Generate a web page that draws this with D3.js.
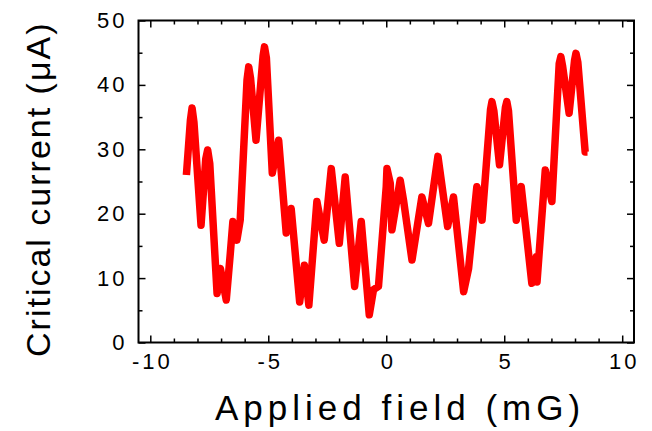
<!DOCTYPE html>
<html>
<head>
<meta charset="utf-8">
<script src="https://cdn.jsdelivr.net/npm/d3@7"></script>
<style>
  body { margin: 0; background: #fff; }
  svg text { font-family: Arial, "Liberation Sans", sans-serif; fill: #000; }
</style>
</head>
<body>
<div class="chart"></div>
<script>
// Traced data: applied field (mG) vs critical current (uA)
var fieldValues = [-8.47, -8.3, -8.23, -8.15, -7.85, -7.65, -7.57, -7.48, -7.17, -7.03, -6.78, -6.61, -6.5, -6.33, -6.19,
  -5.9, -5.83, -5.75, -5.52, -5.22, -5.16, -5.08, -4.83, -4.56, -4.24, -4.03, -3.67, -3.47, -3.28, -2.94, -2.63,
  -2.33, -1.99, -1.74, -1.34, -1.06, -0.72, -0.54, -0.33, 0.0, 0.03, 0.17, 0.24, 0.59,
  0.74, 1.09, 1.51, 1.79, 2.19, 2.6, 2.85, 3.28, 3.49, 3.84, 4.06, 4.42, 4.48, 4.56, 4.8, 5.05, 5.11, 5.18, 5.51,
  5.72, 6.17, 6.36, 6.39, 6.74, 7.02, 7.33, 7.4, 7.47, 7.75, 7.98, 8.04, 8.12, 8.43, 8.53];
var currentValues = [26.0, 34.5, 36.4, 34.2, 18.2, 28.5, 29.9, 27.8, 7.6, 11.5, 6.6, 13.8, 18.8, 15.9, 19.0,
  40.8, 42.8, 41.0, 31.4, 44.5, 45.9, 44.2, 26.3, 31.4, 17.0, 20.8, 6.3, 12.0, 5.8, 21.9, 15.9,
  27.0, 15.4, 25.7, 8.7, 18.8, 4.3, 8.2, 8.7, 24.2, 27.0, 24.7, 17.5, 25.2,
  21.9, 12.8, 22.6, 18.5, 28.9, 18.0, 22.6, 7.9, 11.5, 24.2, 19.0, 36.2, 37.4, 36.0, 27.6, 36.5, 37.4, 36.0, 19.0,
  24.2, 9.2, 13.3, 9.4, 26.8, 21.9, 43.3, 44.4, 43.0, 35.6, 43.8, 44.9, 43.5, 29.6, 29.6];

var xTicks = [-10, -5, 0, 5, 10];
var yTicks = [0, 10, 20, 30, 40, 50];

var svgWidth = 652;
var svgHeight = 431;
var margin = { top: 20.5, right: 18, bottom: 88.5, left: 138.5 };
var width = svgWidth - margin.left - margin.right;
var height = svgHeight - margin.top - margin.bottom;

var svg = d3.select(".chart")
  .append("svg")
  .attr("width", svgWidth)
  .attr("height", svgHeight);

var g = svg.append("g")
  .attr("transform", `translate(${margin.left}, ${margin.top})`);

var x = d3.scaleLinear().domain([-10.5, 10.5]).range([0, width]);
var y = d3.scaleLinear().domain([0, 50]).range([height, 0]);

var minorX = d3.range(-10, 11, 1).filter(d => xTicks.indexOf(d) < 0);
var minorY = d3.range(5, 50, 10);

// plain hyphen for negatives, as in the original figure
var plain = d => String(d);

function styleAxis(sel) {
  sel.attr("font-family", null);
  sel.select(".domain").remove();
  sel.selectAll("line").attr("stroke", "#000").attr("stroke-width", 1.5);
  sel.selectAll("text")
    .attr("font-size", 22)
    .attr("letter-spacing", "3px")
    .attr("fill", "#000");
}

// minor ticks
g.append("g").attr("transform", `translate(0, ${height})`)
  .call(d3.axisBottom(x).tickValues(minorX).tickSize(-4).tickFormat(""))
  .call(styleAxis);
g.append("g")
  .call(d3.axisTop(x).tickValues(minorX).tickSize(-4).tickFormat(""))
  .call(styleAxis);
g.append("g")
  .call(d3.axisLeft(y).tickValues(minorY).tickSize(-4).tickFormat(""))
  .call(styleAxis);
g.append("g").attr("transform", `translate(${width}, 0)`)
  .call(d3.axisRight(y).tickValues(minorY).tickSize(-4).tickFormat(""))
  .call(styleAxis);

// major ticks
g.append("g").attr("transform", `translate(0, ${height})`)
  .call(d3.axisBottom(x).tickValues(xTicks).tickSize(-7).tickPadding(11).tickFormat(plain))
  .call(styleAxis)
  .selectAll("text").attr("dx", "1.5px");
g.append("g")
  .call(d3.axisTop(x).tickValues(xTicks).tickSize(-7).tickFormat(""))
  .call(styleAxis);
g.append("g")
  .call(d3.axisLeft(y).tickValues(yTicks).tickSize(-7).tickPadding(11).tickFormat(plain))
  .call(styleAxis);
g.append("g").attr("transform", `translate(${width}, 0)`)
  .call(d3.axisRight(y).tickValues(yTicks).tickSize(-7).tickFormat(""))
  .call(styleAxis);

// frame
g.append("rect")
  .attr("width", width)
  .attr("height", height)
  .attr("fill", "none")
  .attr("stroke", "#000")
  .attr("stroke-width", 2);

// data line
var points = fieldValues.map((f, i) => [f, currentValues[i]]);
var line = d3.line()
  .x(d => x(d[0]))
  .y(d => y(d[1]));

g.append("path")
  .datum(points)
  .attr("d", line)
  .attr("fill", "none")
  .attr("stroke", "#ff0000")
  .attr("stroke-width", 7.5)
  .attr("stroke-linejoin", "round");

// axis titles
svg.append("text")
  .attr("x", 215)
  .attr("y", 420)
  .attr("font-size", 35)
  .attr("letter-spacing", "5px")
  .text("Applied field (mG)");

svg.append("text")
  .attr("transform", "translate(50, 357) rotate(-90)")
  .attr("font-size", 34)
  .attr("letter-spacing", "2px")
  .text("Critical current (\u03bcA)");
</script>
</body>
</html>
